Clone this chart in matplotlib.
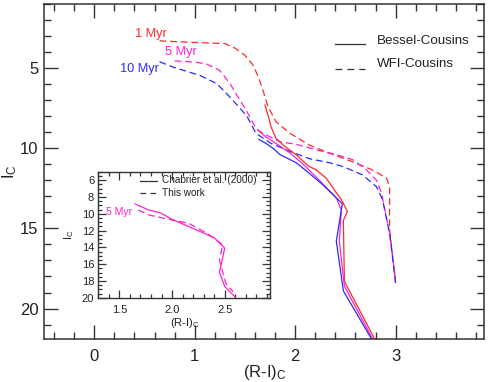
import matplotlib
matplotlib.use("Agg")
import matplotlib.pyplot as plt
from matplotlib.ticker import MultipleLocator, FormatStrFormatter

plt.rcParams['font.family'] = ['Liberation Sans', 'DejaVu Sans']
plt.rcParams['mathtext.default'] = 'regular'

RED = '#ff2a2a'
MAG = '#ff22cc'
BLUE = '#2a2aff'

# ---- main panel data: WFI-Cousins (dashed) ----
red_dash_x = [0.65, 1.00, 1.30, 1.40, 1.50, 1.58, 1.63, 1.67, 1.70, 1.73, 1.81, 1.95, 2.14, 2.34, 2.57, 2.77, 2.91, 2.94, 2.94, 2.97, 3.00]
red_dash_y = [3.30, 3.40, 3.47, 3.75, 4.20, 4.80, 5.50, 6.20, 6.80, 7.40, 8.35, 9.07, 9.80, 10.30, 10.84, 11.35, 11.87, 12.40, 15.00, 16.70, 18.30]

mag_dash_x = [0.80, 1.00, 1.12, 1.25, 1.35, 1.45, 1.51, 1.61, 1.68, 1.85, 2.01, 2.21, 2.41, 2.57, 2.71, 2.81, 2.86, 2.94, 2.97, 3.00]
mag_dash_y = [4.55, 4.62, 4.75, 5.15, 5.95, 7.00, 7.60, 8.76, 9.07, 9.60, 9.75, 10.10, 10.40, 10.70, 11.35, 12.00, 12.80, 15.30, 16.70, 18.40]

blue_dash_x = [0.65, 0.79, 1.05, 1.22, 1.35, 1.45, 1.52, 1.61, 1.76, 1.95, 2.14, 2.34, 2.48, 2.67, 2.81, 2.87, 2.94, 3.00]
blue_dash_y = [4.60, 4.95, 5.45, 5.97, 6.80, 7.50, 8.00, 9.07, 9.70, 10.20, 10.65, 10.90, 11.15, 11.66, 12.40, 13.20, 15.30, 18.40]

# ---- main panel data: Bessel-Cousins (solid) ----
red_sol_x = [1.70, 1.73, 1.76, 1.81, 1.90, 2.01, 2.13, 2.21, 2.31, 2.39, 2.46, 2.52, 2.48, 2.49, 2.80]
red_sol_y = [7.30, 7.94, 8.66, 9.39, 9.90, 10.40, 11.10, 11.35, 11.87, 12.60, 13.20, 13.94, 14.50, 18.30, 22.00]

mag_sol_x = [1.63, 1.71, 1.81, 1.95, 2.08, 2.21, 2.41, 2.46, 2.44, 2.49, 2.78]
mag_sol_y = [8.87, 9.30, 9.70, 10.30, 11.00, 11.80, 13.10, 13.85, 15.80, 18.60, 22.00]

blue_sol_x = [1.64, 1.71, 1.78, 1.85, 2.01, 2.14, 2.28, 2.41, 2.47, 2.41, 2.48, 2.77]
blue_sol_y = [9.45, 9.70, 10.00, 10.40, 10.90, 11.56, 12.30, 13.10, 13.45, 15.80, 18.90, 22.00]

age_labels = ['1 Myr', '5 Myr', '10 Myr']
legend_labels = ['Bessel-Cousins', 'WFI-Cousins']

# ---- inset data (5 Myr) ----
chab_x = [1.65, 1.78, 1.89, 2.00, 2.40, 2.50, 2.45, 2.50, 2.60]
chab_y = [8.85, 9.56, 9.90, 10.67, 12.85, 14.10, 17.00, 18.65, 19.95]
this_x = [1.68, 1.78, 2.00, 2.16, 2.34, 2.48, 2.45, 2.48, 2.51, 2.58]
this_y = [9.56, 10.15, 10.75, 11.15, 12.40, 13.70, 15.50, 16.90, 18.30, 19.30]
inset_labels = ['Chabrier et al. (2000)', 'This work']

fig = plt.figure(figsize=(4.91, 3.82), dpi=100)
ax = fig.add_axes([44/491, 1-339/382, 440/491, 335/382])

LW = 0.9
DASH = (5.5, 3.0)

ax.plot(red_dash_x, red_dash_y, color=RED, lw=LW, dashes=DASH)
ax.plot(mag_dash_x, mag_dash_y, color=MAG, lw=LW, dashes=DASH)
ax.plot(blue_dash_x, blue_dash_y, color=BLUE, lw=LW, dashes=DASH)
ax.plot(red_sol_x, red_sol_y, color=RED, lw=LW)
ax.plot(mag_sol_x, mag_sol_y, color=MAG, lw=LW)
ax.plot(blue_sol_x, blue_sol_y, color=BLUE, lw=LW)

ax.set_xlim(-0.5, 3.88)
ax.set_ylim(21.9, 1.0)
ax.xaxis.set_major_locator(MultipleLocator(1))
ax.xaxis.set_minor_locator(MultipleLocator(0.2))
ax.yaxis.set_major_locator(MultipleLocator(5))
ax.yaxis.set_minor_locator(MultipleLocator(1))
ax.tick_params(which='both', direction='in', top=True, right=True, colors='#333333', labelcolor='#222222')
ax.tick_params(which='major', length=10, width=1.0, labelsize=12)
ax.tick_params(which='minor', length=5, width=1.0)
ax.tick_params(axis='x', which='major', pad=7)
ax.tick_params(axis='y', which='major', pad=4)
for s in ax.spines.values():
    s.set_color('#333333')
    s.set_linewidth(1.1)

ax.set_xlabel('(R-I)$_{C}$', fontsize=12, color='#222222', va='center')
ax.xaxis.set_label_coords(0.502, -0.101)
ax.set_ylabel('I$_{C}$', fontsize=12, color='#222222', va='center')
ax.yaxis.set_label_coords(-0.078, 0.5)

# age labels
ax.text(0.72, 2.85, age_labels[0], color=RED, fontsize=9.2, ha='right', va='center')
ax.text(1.02, 4.0, age_labels[1], color=MAG, fontsize=9.2, ha='right', va='center')
ax.text(0.64, 5.05, age_labels[2], color=BLUE, fontsize=9.2, ha='right', va='center')

# legend (drawn as line samples + text)
ax.plot([2.40, 2.70], [3.48, 3.48], color='#333333', lw=LW)
ax.plot([2.40, 2.70], [5.04, 5.04], color='#333333', lw=LW, dashes=(5.5, 4.0))
ax.text(2.81, 3.28, legend_labels[0], fontsize=9.6, va='center', ha='left', color='#222222')
ax.text(2.81, 4.73, legend_labels[1], fontsize=9.6, va='center', ha='left', color='#222222')

# ---- inset ----
axi = fig.add_axes([98.3/491, 1-297.7/382, 171.7/491, 126/382])
axi.plot(chab_x, chab_y, color=MAG, lw=LW)
axi.plot(this_x, this_y, color=MAG, lw=LW, dashes=DASH)
axi.set_xlim(1.3, 2.93)
axi.set_ylim(20.0, 5.0)
axi.xaxis.set_major_locator(MultipleLocator(0.5))
axi.xaxis.set_minor_locator(MultipleLocator(0.1))
axi.xaxis.set_major_formatter(FormatStrFormatter('%.1f'))
axi.yaxis.set_major_locator(MultipleLocator(2))
axi.yaxis.set_minor_locator(MultipleLocator(0.5))
axi.tick_params(which='both', direction='in', top=True, right=True, colors='#333333', labelcolor='#222222')
axi.tick_params(which='major', length=6, width=0.9, labelsize=8)
axi.tick_params(which='minor', length=3, width=0.9)
axi.tick_params(axis='x', which='major', pad=5)
axi.tick_params(axis='y', which='major', pad=3)
for s in axi.spines.values():
    s.set_color('#333333')
    s.set_linewidth(1.0)
axi.set_xlabel('(R-I)$_{C}$', fontsize=8, color='#222222', va='center')
axi.xaxis.set_label_coords(0.505, -0.20)
axi.set_ylabel('I$_{C}$', fontsize=8, color='#222222', va='center')
axi.yaxis.set_label_coords(-0.17, 0.5)

axi.text(1.62, 9.75, '5 Myr', color=MAG, fontsize=7.5, ha='right', va='center')
axi.plot([0.243, 0.34], [0.929, 0.929], transform=axi.transAxes, color='#333333', lw=LW)
axi.plot([0.243, 0.34], [0.829, 0.829], transform=axi.transAxes, color='#333333', lw=LW, dashes=(4.5, 3.5))
axi.text(0.37, 0.933, inset_labels[0], transform=axi.transAxes, fontsize=7.2, va='center', ha='left', color='#222222')
axi.text(0.37, 0.833, inset_labels[1], transform=axi.transAxes, fontsize=7.2, va='center', ha='left', color='#222222')

fig.savefig('out.png', dpi=100)
